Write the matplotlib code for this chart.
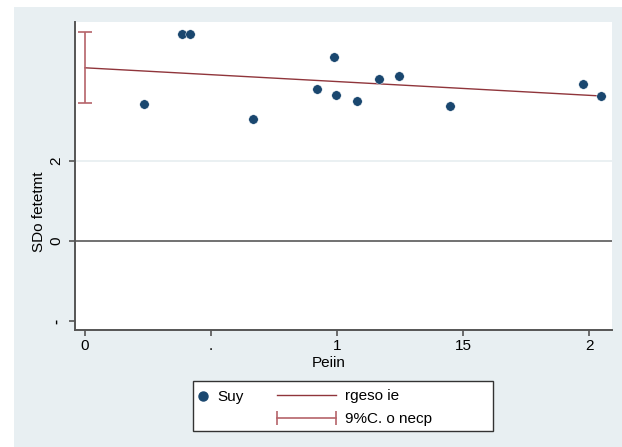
import matplotlib
matplotlib.use("Agg")
import matplotlib.pyplot as plt
from matplotlib.lines import Line2D
from matplotlib.patches import Rectangle
from matplotlib.legend_handler import HandlerLine2D

plt.rcParams['font.family'] = ['Liberation Sans', 'DejaVu Sans']

# values
x_vals = [0.234, 0.386, 0.415, 0.667, 0.919, 0.987, 0.997, 1.079, 1.167, 1.247, 1.447, 1.976, 2.049]
y_vals = [3.42, 5.18, 5.18, 3.05, 3.79, 4.60, 3.65, 3.50, 4.06, 4.13, 3.38, 3.92, 3.63]
fit_x = [0.0, 2.049]
fit_y = [4.33, 3.625]
ci_x = [0.0]
ci_mid = [4.335]
ci_lo = [3.45]
ci_hi = [5.22]

xticks = [0, 0.5, 1, 1.5, 2]
xtick_labels = ["0", ".", "1", "15", "2"]
yticks = [-2, 0, 2]
ytick_labels = ["-", "0", "2"]

navy = "#1a476f"
maroon = "#90353b"
ci_col = "#b5636a"
bg = "#e8eff2"

W, H = 622, 447
fig = plt.figure(figsize=(W / 100, H / 100), dpi=100, facecolor="white")
fig.patches.append(Rectangle((14 / W, 0), 1, 1 - 7 / H, transform=fig.transFigure,
                             facecolor=bg, edgecolor="none", zorder=-10))

ax = fig.add_axes([75 / W, 1 - 330 / H, (612 - 75) / W, (330 - 22) / H])
ax.set_facecolor("white")

ax.axhline(2, color="#e6eef0", lw=1.2, zorder=0)
ax.axhline(0, color="#666666", lw=1.3, zorder=1)

ax.plot(x_vals, y_vals, "o", color=navy, ms=6.8, mec="white", mew=0.3, zorder=4)
ax.plot(fit_x, fit_y, color=maroon, lw=1.0, zorder=3)
yerr = [[m - lo for m, lo in zip(ci_mid, ci_lo)], [hi - m for m, hi in zip(ci_mid, ci_hi)]]
ax.errorbar(ci_x, ci_mid, yerr=yerr, fmt="none", ecolor=ci_col, elinewidth=1.2,
            capsize=5, capthick=1.2, zorder=3)

ax.set_xlim(-0.04, 2.091)
ax.set_ylim(-2.225, 5.475)
ax.set_xticks(xticks)
ax.set_xticklabels(xtick_labels, fontsize=11)
ax.set_yticks(yticks)
ax.set_yticklabels(ytick_labels, fontsize=11, rotation=90, va="center")
ax.get_yticklabels()[0].set_fontweight("bold")

for s in ["top", "right"]:
    ax.spines[s].set_visible(False)
for s in ["left", "bottom"]:
    ax.spines[s].set_color("#555555")
    ax.spines[s].set_linewidth(1.4)
ax.tick_params(axis="both", length=4.5, width=1.2, color="#555555")
ax.tick_params(axis="x", pad=2)
ax.tick_params(axis="y", pad=4)

ax.set_xlabel("Peiin", fontsize=11)
ax.xaxis.set_label_coords((328.7 - 75) / 537, (330 - 363) / 308)
ax.xaxis.label.set_va("center")
ax.set_ylabel("SDo fetetmt", fontsize=11)
ax.yaxis.set_label_coords((39 - 75) / 537, (330 - 211.5) / 308)
ax.yaxis.label.set_va("center")

# legend box
fig.patches.append(Rectangle((193 / W, 1 - 431 / H), 300 / W, 50 / H, transform=fig.transFigure,
                             facecolor="white", edgecolor="#333333", lw=1.0, zorder=5))

dot = Line2D([], [], ls="none", marker="o", color=navy, ms=6.5)
reg = Line2D([], [], color=maroon, lw=1.0)
ci = Line2D([], [], color=ci_col, lw=1.2, marker="|", ms=10, mew=1.2)

leg1 = fig.legend([dot], ["Suy"], loc="center left", bbox_to_anchor=(197 / W, 1 - 397 / H),
                  frameon=False, fontsize=11, handlelength=0.8, handletextpad=0.5,
                  borderpad=0, borderaxespad=0)
leg2 = fig.legend([reg, ci], ["rgeso ie", "9%C. o necp"], loc="upper left",
                  bbox_to_anchor=(277 / W, 1 - 389 / H), frameon=False, fontsize=11,
                  handlelength=3.85, handletextpad=0.6, labelspacing=0.6,
                  borderpad=0, borderaxespad=0,
                  handler_map={ci: HandlerLine2D(numpoints=2, marker_pad=0)})
leg1.set_zorder(6)
leg2.set_zorder(6)

fig.savefig("out.png", dpi=100, facecolor="white")
